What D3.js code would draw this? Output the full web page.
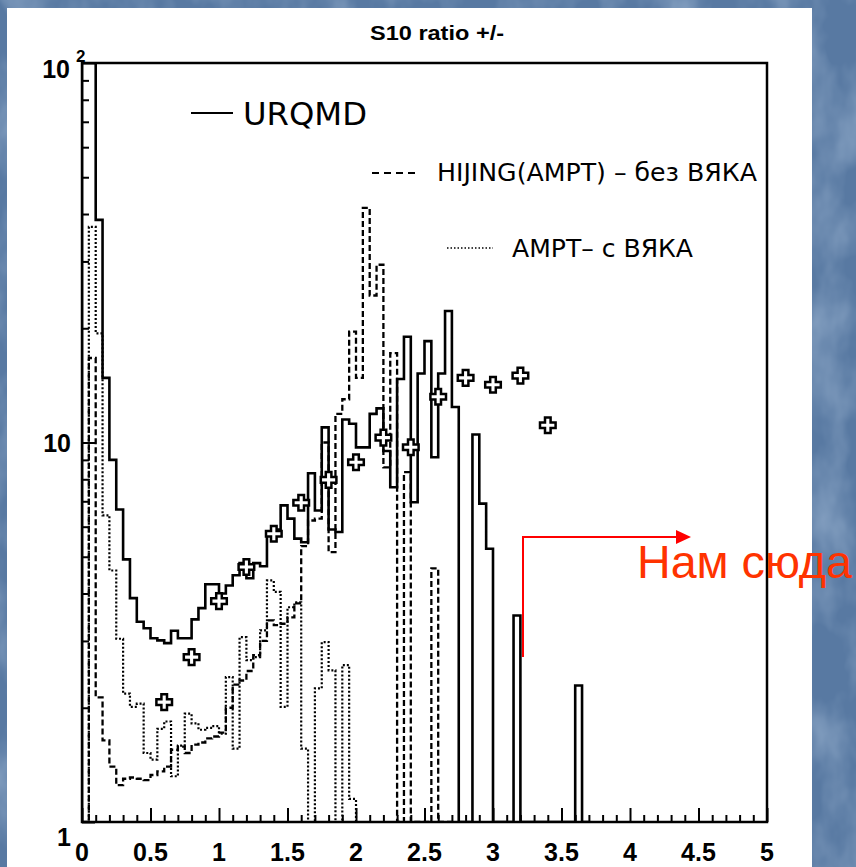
<!DOCTYPE html>
<html>
<head>
<meta charset="utf-8">
<script src="https://cdn.jsdelivr.net/npm/d3@7"></script>
<style>
html, body { margin: 0; padding: 0; }
body { width: 856px; height: 867px; overflow: hidden; background: #5a7ca4; }
svg { display: block; }
</style>
</head>
<body>
<svg id="chart" width="856" height="867"></svg>
<script>
// histogram bins: 0.05 wide starting at 0
var binWidth = 0.05;

var urqmd = [150, 150, 38.6, 14.8, 9.0, 6.66, 4.92, 3.89, 3.37, 3.24,
             3.05, 3.01, 2.96, 3.19, 3.05, 3.05, 3.42, 3.66, 4.23, 4.23,
             4.0, 4.2, 4.47, 4.81, 4.39, 4.81, 4.72, 5.7, 5.9, 6.83,
             6.3, 5.58, 5.46, 8.3, 6.62, 10.96, 5.9, 5.81, 11.5, 11.2,
             9.71, 9.71, 11.9, 12.3, 9.5, 7.62, 14.7, 19.0, 6.96, 15.2,
             18.5, 9.14, 15.2, 22.2, 12.4, 0, 0, 10.5, 6.9, 5.25,
             0, 0, 0, 3.5, 0, 0, 0, 0, 0, 0,
             0, 0, 2.29, 0];

var hijing = [0, 16.7, 2.13, 1.64, 1.40, 1.25, 1.30, 1.31, 1.30, 1.29,
              1.33, 1.36, 1.40, 1.55, 1.58, 1.52, 1.60, 1.62, 1.66, 1.68,
              1.72, 2.0, 2.3, 2.36, 2.5, 2.75, 3.0, 3.4, 3.3, 3.33,
              3.46, 3.77, 5.33, 6.23, 6.3, 10.0, 5.14, 11.9, 13.0, 19.6,
              14.8, 41.5, 24.4, 29.4, 8.6, 17.2, 0, 8.35, 0, 0,
              0, 4.66, 0, 0];

var ampt = [0, 37, 19.4, 6.43, 4.6, 3.04, 2.18, 2.01, 2.05, 1.52,
            1.46, 1.76, 1.84, 1.32, 1.59, 1.93, 1.82, 1.75, 1.77, 1.79,
            1.71, 2.41, 1.56, 3.07, 2.67, 2.72, 3.2, 4.33, 4.04, 2.01,
            3.68, 3.79, 1.56, 0, 2.25, 2.98, 2.51, 0, 2.59, 1.15,
            0, 0];

// measured points (open crosses)
var pointX = [0.6, 0.8, 1.0, 1.2, 1.4, 1.6, 1.8, 2.0, 2.2, 2.4, 2.6, 2.8, 3.0, 3.2, 3.4];
var pointY = [2.07, 2.72, 3.82, 4.7, 5.75, 6.94, 7.97, 8.87, 10.3, 9.72, 13.2, 14.8, 14.2, 15.0, 11.1];

var xMajor = [0, 0.5, 1, 1.5, 2, 2.5, 3, 3.5, 4, 4.5, 5];
var xLabels = ["0", "0.5", "1", "1.5", "2", "2.5", "3", "3.5", "4", "4.5", "5"];
var yMajor = [1, 10, 100];
var yMinor = [2, 3, 4, 5, 6, 7, 8, 9, 20, 30, 40, 50, 60, 70, 80, 90];

var title = "S10 ratio +/-";
var legendNames = ["URQMD", "HIJING(AMPT) – без ВЯКА", "AMPT– с ВЯКА"];
var note = "Нам сюда";

var svg = d3.select("#chart");

// slide background texture
var defs = svg.append("defs");
var tex = defs.append("filter").attr("id", "tex")
    .attr("x", 0).attr("y", 0).attr("width", "100%").attr("height", "100%");
tex.append("feTurbulence").attr("type", "fractalNoise")
    .attr("baseFrequency", "0.02 0.012").attr("numOctaves", 4).attr("seed", 7);
tex.append("feColorMatrix").attr("type", "matrix")
    .attr("values", "0 0 0 0 0.55  0 0 0 0 0.68  0 0 0 0 0.84  0 0 0 0.8 -0.32");
svg.append("rect").attr("width", 856).attr("height", 867).attr("fill", "#5879a2");
svg.append("rect").attr("width", 856).attr("height", 867).attr("filter", "url(#tex)");

// white picture
svg.append("rect").attr("x", 7).attr("y", 8).attr("width", 805).attr("height", 870).attr("fill", "#fff");

var x = d3.scaleLinear().domain([0, 5]).range([82, 767]);
var y = d3.scaleLog().domain([1, 100]).range([822, 63]);

defs.append("clipPath").attr("id", "frameClip")
  .append("rect").attr("x", 82).attr("y", 63).attr("width", 685).attr("height", 759);

function histPath(vals) {
    var pts = [[x(0), y(1)]];
    vals.forEach(function(v, i) {
        var yy = v > 0 ? y(v) : y(1);
        pts.push([x(i * binWidth), yy]);
        pts.push([x((i + 1) * binWidth), yy]);
    });
    pts.push([x(vals.length * binWidth), y(1)]);
    return d3.line()(pts);
}

var plot = svg.append("g").attr("clip-path", "url(#frameClip)");

plot.append("path").attr("d", histPath(ampt))
    .attr("fill", "none").attr("stroke", "#000").attr("stroke-width", 2.2)
    .attr("stroke-dasharray", "2,2");
plot.append("path").attr("d", histPath(hijing))
    .attr("fill", "none").attr("stroke", "#000").attr("stroke-width", 2.3)
    .attr("stroke-dasharray", "6,3");
plot.append("path").attr("d", histPath(urqmd))
    .attr("fill", "none").attr("stroke", "#000").attr("stroke-width", 2.6);

var a = 2.8, L = 7.8;
var cross = "M" + (-a) + "," + (-L) + "H" + a + "V" + (-a) + "H" + L + "V" + a + "H" + a +
            "V" + L + "H" + (-a) + "V" + a + "H" + (-L) + "V" + (-a) + "H" + (-a) + "Z";
plot.selectAll("path.pt")
    .data(pointX)
    .join("path")
    .attr("class", "pt")
    .attr("d", cross)
    .attr("transform", (d, i) => "translate(" + x(d) + "," + y(pointY[i]) + ")")
    .attr("fill", "#fff").attr("stroke", "#000").attr("stroke-width", 2.5);

// axes with inward ticks
var xMinor = d3.range(0, 51).map(d => d / 10).filter(d => Math.abs(d * 2 - Math.round(d * 2)) > 1e-6);
svg.append("g").attr("transform", "translate(0,822)")
    .call(d3.axisBottom(x).tickValues(xMajor).tickSize(-14).tickFormat(""))
    .call(g => g.select(".domain").remove());
svg.append("g").attr("transform", "translate(0,822)")
    .call(d3.axisBottom(x).tickValues(xMinor).tickSize(-7).tickFormat(""))
    .call(g => g.select(".domain").remove());
svg.append("g").attr("transform", "translate(82,0)")
    .call(d3.axisLeft(y).tickValues(yMajor).tickSize(-13).tickFormat(""))
    .call(g => g.select(".domain").remove());
svg.append("g").attr("transform", "translate(82,0)")
    .call(d3.axisLeft(y).tickValues(yMinor).tickSize(-7).tickFormat(""))
    .call(g => g.select(".domain").remove());
svg.selectAll(".tick line").attr("stroke", "#000").attr("stroke-width", 2);

svg.append("rect").attr("x", 82).attr("y", 63).attr("width", 685).attr("height", 759)
    .attr("fill", "none").attr("stroke", "#000").attr("stroke-width", 2.5);

// tick labels
svg.append("g").selectAll("text")
    .data(xMajor)
    .join("text")
    .attr("x", d => x(d)).attr("y", 861)
    .attr("text-anchor", "middle")
    .attr("font-family", "Liberation Sans, Arial, sans-serif")
    .attr("font-weight", "bold").attr("font-size", 25)
    .text((d, i) => xLabels[i]);

var yl = svg.append("g").attr("font-family", "Liberation Sans, Arial, sans-serif")
    .attr("font-weight", "bold").attr("fill", "#000");
yl.append("text").attr("x", 71).attr("y", 846).attr("text-anchor", "end").attr("font-size", 25).text("1");
yl.append("text").attr("x", 71).attr("y", y(10) + 9).attr("text-anchor", "end").attr("font-size", 25).text("10");
yl.append("text").attr("x", 70).attr("y", 78).attr("text-anchor", "end").attr("font-size", 25).text("10");
yl.append("text").attr("x", 76).attr("y", 62).attr("font-size", 17).text("2");

// title
svg.append("text").attr("x", 437).attr("y", 40).attr("text-anchor", "middle")
    .attr("font-family", "Liberation Sans, Arial, sans-serif").attr("font-weight", "bold")
    .attr("font-size", 20).attr("textLength", 134).attr("lengthAdjust", "spacingAndGlyphs")
    .text(title);

// legend
var lg = svg.append("g");
lg.append("line").attr("x1", 191).attr("x2", 233).attr("y1", 113).attr("y2", 113)
    .attr("stroke", "#000").attr("stroke-width", 2);
lg.append("line").attr("x1", 372).attr("x2", 419).attr("y1", 173).attr("y2", 173)
    .attr("stroke", "#000").attr("stroke-width", 2).attr("stroke-dasharray", "7,5");
lg.append("line").attr("x1", 447).attr("x2", 493).attr("y1", 248).attr("y2", 248)
    .attr("stroke", "#000").attr("stroke-width", 1.5).attr("stroke-dasharray", "1.5,2");
var legendPos = [[243, 125, 32, 124], [437, 181, 25, 320], [512, 257, 25, 181]];
lg.selectAll("text")
    .data(legendNames)
    .join("text")
    .attr("x", (d, i) => legendPos[i][0])
    .attr("y", (d, i) => legendPos[i][1])
    .attr("font-size", (d, i) => legendPos[i][2])
    .attr("textLength", (d, i) => legendPos[i][3])
    .attr("lengthAdjust", "spacingAndGlyphs")
    .attr("font-family", "DejaVu Sans, Verdana, sans-serif")
    .attr("fill", "#000")
    .text(d => d);

// annotation
svg.append("path").attr("d", "M523,657V537H677")
    .attr("fill", "none").attr("stroke", "#ff0000").attr("stroke-width", 2);
svg.append("path").attr("d", "M676,530L691,537L676,544Z").attr("fill", "#ff0000");
svg.append("text").attr("x", 637).attr("y", 578)
    .attr("font-family", "Liberation Sans, Arial, sans-serif").attr("font-size", 47)
    .attr("textLength", 215).attr("lengthAdjust", "spacingAndGlyphs")
    .attr("fill", "#ff3300").text(note);
</script>
</body>
</html>
